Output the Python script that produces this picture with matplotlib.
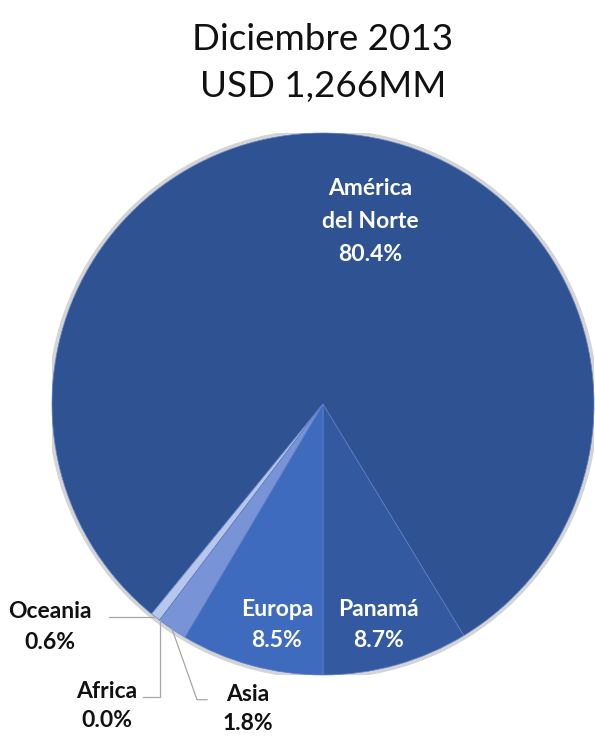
import numpy as np
import matplotlib.pyplot as plt
from matplotlib.patches import Circle

# slices, counter-clockwise starting straight down
regions = ["Panamá", "América\ndel Norte", "Oceania", "Africa", "Asia", "Europa"]
shares = [8.7, 80.4, 0.6, 0.0, 1.8, 8.5]
colors = ["#335AA0", "#2E5292", "#B7C6EA", "#9AAEE0", "#7893D6", "#3E6BBE"]

title_lines = ["Diciembre 2013", "USD 1,266MM"]

plt.rcParams["font.family"] = ["Lato", "DejaVu Sans"]

fig = plt.figure(figsize=(5.95, 7.37), dpi=100)

cx, cy, r = 323, 404, 271
ax = fig.add_axes([
    (cx - r) / 595,
    (737 - cy - r) / 737,
    2 * r / 595,
    2 * r / 737
])

# soft grey halo like the original shadow
ax.add_patch(Circle((0, 0), 1.012, color="#d4d4d4", zorder=0))

wedges, _ = ax.pie(
    shares,
    colors=colors,
    startangle=-90,
    counterclock=True,
    radius=1,
    wedgeprops=dict(edgecolor="#5f80c6", linewidth=0.5)
)

ax.set_xlim(-1, 1)
ax.set_ylim(-1, 1)
ax.set_aspect("equal")
ax.axis("off")

label_size = 16.5

# labels inside the pie
inside = {
    "América\ndel Norte": (0.173, 0.672, 1.7),
    "Panamá": (0.203, -0.815, 1.6),
    "Europa": (-0.170, -0.815, 1.6),
}
for name, (x, y, ls) in inside.items():
    i = regions.index(name)
    ax.text(
        x, y, f"{name}\n{shares[i]:.1f}%",
        ha="center", va="center",
        color="white", fontsize=label_size, fontweight="bold",
        linespacing=ls
    )

# small slices with leader lines
def anchor(name):
    w = wedges[regions.index(name)]
    mid = np.deg2rad((w.theta1 + w.theta2) / 2)
    return np.cos(mid), np.sin(mid)

line_kw = dict(color="#a6a6a6", linewidth=0.9, clip_on=False)

ax_, ay_ = anchor("Oceania")
ax.plot([ax_, -0.79], [ay_, ay_], **line_kw)
ax.text(-1.007, -0.823, "Oceania\n0.6%", ha="center", va="center",
        fontsize=label_size, fontweight="bold", color="#111111", linespacing=1.6)

ax_, ay_ = anchor("Africa")
ax.plot([ax_, ax_, -0.664], [ay_, -1.081, -1.081], **line_kw)
ax.text(-0.797, -1.114, "Africa\n0.0%", ha="center", va="center",
        fontsize=label_size, fontweight="bold", color="#111111", linespacing=1.5)

ax_, ay_ = anchor("Asia")
ax.plot([ax_, -0.465, -0.428], [ay_, -1.091, -1.091], **line_kw)
ax.text(-0.277, -1.125, "Asia\n1.8%", ha="center", va="center",
        fontsize=label_size, fontweight="bold", color="#111111", linespacing=1.5)

fig.text(323 / 595, 1 - 40 / 737, title_lines[0],
         ha="center", va="center", fontsize=26.5, color="#111111")
fig.text(323 / 595, 1 - 86 / 737, title_lines[1],
         ha="center", va="center", fontsize=26.5, color="#111111")

fig.savefig("out.png", dpi=100)
